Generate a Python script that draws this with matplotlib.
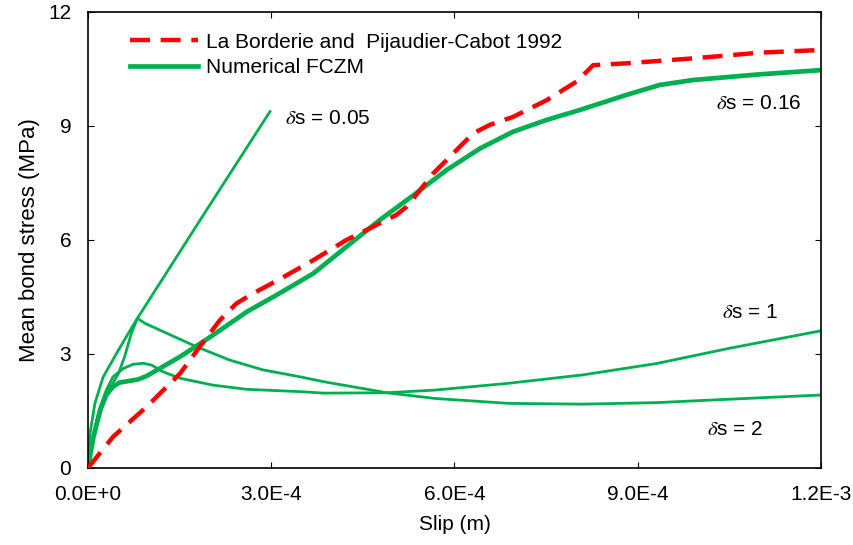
import numpy as np
import matplotlib
matplotlib.use("Agg")
import matplotlib.pyplot as plt
from matplotlib.ticker import FixedLocator, FixedFormatter

plt.rcParams['font.family'] = ['Liberation Sans', 'DejaVu Sans']
plt.rcParams['mathtext.fontset'] = 'stix'

# ---------------- data (slip in m, stress in MPa)
# La Borderie and Pijaudier-Cabot 1992 (experimental)
exp_x = [0, 0.41e-4, 0.96e-4, 1.51e-4, 1.83e-4, 2.16e-4, 2.43e-4, 2.71e-4, 3.14e-4,
         3.69e-4, 4.23e-4, 4.78e-4, 5.05e-4, 5.22e-4, 5.44e-4, 5.65e-4, 5.87e-4,
         6.09e-4, 6.31e-4, 6.58e-4, 6.96e-4, 7.51e-4, 8.0e-4, 8.27e-4, 8.82e-4,
         9.91e-4, 1.1e-3, 1.2e-3]
exp_y = [0, 0.82, 1.61, 2.49, 3.19, 3.89, 4.33, 4.6, 4.97,
         5.47, 6.0, 6.44, 6.66, 6.88, 7.32, 7.75, 8.1,
         8.46, 8.81, 9.03, 9.24, 9.68, 10.17, 10.6, 10.65,
         10.78, 10.93, 11.0]

# Numerical FCZM, delta_s = 0.16 (thick)
d016_x = [0, 0.087e-4, 0.2e-4, 0.3e-4, 0.41e-4, 0.52e-4, 0.82e-4, 0.96e-4, 1.51e-4,
          2.05e-4, 2.6e-4, 3.14e-4, 3.69e-4, 4.23e-4, 4.78e-4, 5.33e-4, 5.87e-4,
          6.42e-4, 6.96e-4, 7.51e-4, 8.05e-4, 8.82e-4, 9.36e-4, 9.91e-4, 1.1e-3, 1.2e-3]
d016_y = [0, 0.79, 1.52, 1.92, 2.14, 2.25, 2.33, 2.42, 2.93,
          3.5, 4.11, 4.6, 5.12, 5.82, 6.53, 7.18, 7.84,
          8.41, 8.85, 9.16, 9.42, 9.82, 10.08, 10.21, 10.36, 10.47]

# delta_s = 0.05
d005_x = [0, 0.033e-4, 0.115e-4, 0.25e-4, 0.47e-4, 0.63e-4, 0.81e-4, 1.89e-4, 2.98e-4]
d005_y = [0, 0.91, 1.71, 2.4, 3.02, 3.46, 3.94, 6.66, 9.38]

# delta_s = 1
d1_x = [0, 0.087e-4, 0.2e-4, 0.3e-4, 0.41e-4, 0.58e-4, 0.74e-4, 0.906e-4, 1.04e-4,
        1.23e-4, 1.51e-4, 2.05e-4, 2.6e-4, 3.47e-4, 3.86e-4, 4.89e-4, 5.68e-4,
        6.89e-4, 8.1e-4, 9.31e-4, 1.05e-3, 1.2e-3]
d1_y = [0, 0.91, 1.61, 2.05, 2.4, 2.62, 2.73, 2.755, 2.71,
        2.53, 2.36, 2.18, 2.07, 2.01, 1.97, 1.98, 2.05,
        2.23, 2.45, 2.75, 3.15, 3.61]

# delta_s = 2
d2_x = [0, 0.087e-4, 0.2e-4, 0.3e-4, 0.41e-4, 0.5e-4, 0.6e-4, 0.71e-4, 0.81e-4,
        0.93e-4, 1.23e-4, 1.78e-4, 2.32e-4, 2.87e-4, 3.47e-4, 3.86e-4, 4.47e-4,
        4.89e-4, 5.68e-4, 6.89e-4, 8.1e-4, 9.31e-4, 1.05e-3, 1.2e-3]
d2_y = [0, 0.79, 1.43, 1.96, 2.24, 2.49, 2.93, 3.54, 3.94,
        3.81, 3.59, 3.19, 2.84, 2.58, 2.40, 2.27, 2.10,
        1.98, 1.83, 1.70, 1.68, 1.72, 1.81, 1.92]

x_ticks = [0, 3e-4, 6e-4, 9e-4, 1.2e-3]
x_tick_labels = ['0.0E+0', '3.0E-4', '6.0E-4', '9.0E-4', '1.2E-3']
y_ticks = [0, 3, 6, 9, 12]

labels = [r'$\delta$s = 0.05', r'$\delta$s = 0.16', r'$\delta$s = 1', r'$\delta$s = 2']
label_x = [3.22e-4, 1.028e-3, 1.038e-3, 1.013e-3]
label_y = [9.2, 9.6, 4.1, 1.0]

red = '#FF0000'
green = '#00B050'
fs = 15

# ---------------- plot
fig = plt.figure(figsize=(8.54, 5.45), dpi=100)
ax = fig.add_axes([0.103, 0.1413, 0.8583, 0.8367])

ax.plot(exp_x, exp_y, color=red, lw=3.2, dashes=(4.5, 2.4),
        label='La Borderie and  Pijaudier-Cabot 1992', zorder=3)
ax.plot(d016_x, d016_y, color=green, lw=3.4, label='Numerical FCZM',
        solid_joinstyle='round', zorder=2)
for xs, ys in [(d005_x, d005_y), (d1_x, d1_y), (d2_x, d2_y)]:
    ax.plot(xs, ys, color=green, lw=2.0, solid_joinstyle='round', zorder=2)

for t, lx, ly in zip(labels, label_x, label_y):
    ax.text(lx, ly, t, fontsize=fs, ha='left', va='center')

ax.set_xlim(0, 1.2e-3)
ax.set_ylim(0, 12)
ax.xaxis.set_major_locator(FixedLocator(x_ticks))
ax.xaxis.set_major_formatter(FixedFormatter(x_tick_labels))
ax.set_yticks(y_ticks)
ax.tick_params(direction='in', top=True, right=True, length=4, width=0.8,
               labelsize=fs)
ax.tick_params(axis='x', pad=12)
ax.tick_params(axis='y', pad=12)
for s in ax.spines.values():
    s.set_linewidth(1.2)

ax.set_xlabel('Slip (m)', fontsize=fs, labelpad=8)
ax.set_ylabel('Mean bond stress (MPa)', fontsize=16, labelpad=6)

ax.legend(loc='upper left', frameon=False, fontsize=fs, handlelength=3.3,
          handletextpad=0.35, labelspacing=0.32, borderaxespad=0, borderpad=0,
          bbox_to_anchor=(0.057, 0.955))

fig.savefig('out.png', dpi=100)
